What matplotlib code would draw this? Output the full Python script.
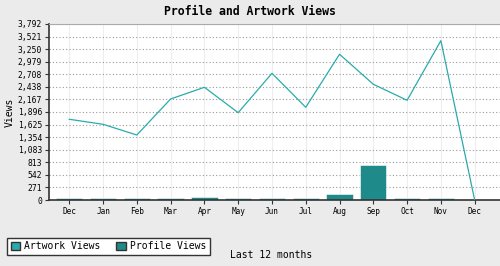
import matplotlib.pyplot as plt
import numpy as np

months = ["Dec", "Jan", "Feb", "Mar", "Apr", "May", "Jun",
          "Jul", "Aug", "Sep", "Oct", "Nov", "Dec"]
artwork = [1739, 1631, 1400, 2176, 2428, 1881, 2729,
           1997, 3139, 2493, 2148, 3432, 0]
profile = [45, 45, 45, 45, 75, 45, 45, 45, 140, 761, 45, 45, 0]
yticks = [0, 271, 542, 813, 1083, 1354, 1625, 1896,
          2167, 2438, 2708, 2979, 3250, 3521, 3792]

line_col = "#2aabab"
bar_col = "#1e8a8a"
mono = "DejaVu Sans Mono"

fig = plt.figure(figsize=(5, 2.66), dpi=100, facecolor="#ebebeb")
ax = fig.add_axes([0.098, 0.248, 0.902, 0.662])
ax.set_facecolor("white")

x = np.arange(len(months))
ax.bar(x, profile, width=0.78, color=bar_col, edgecolor="white",
       linewidth=0.4, zorder=2, label="Profile Views")
ax.plot(x, artwork, color=line_col, linewidth=0.9, zorder=3,
        label="Artwork Views")

ax.set_xlim(-0.6, 12.75)
ax.set_ylim(0, 3792)
ax.set_xticks(x)
ax.set_xticklabels(months, fontfamily=mono, fontsize=5.6)
ax.set_yticks(yticks)
ax.set_yticklabels(["{:,}".format(v) for v in yticks],
                   fontfamily=mono, fontsize=5.8)
ax.tick_params(length=3, width=0.8, color="#333333", pad=2)

ax.yaxis.grid(True, linestyle=(0, (1, 2)), color="#999999", linewidth=0.8)
ax.xaxis.grid(True, linestyle="-", color="#eeeeee", linewidth=0.8)
ax.set_axisbelow(True)

ax.spines["right"].set_visible(False)
ax.spines["top"].set_color("#aaaaaa")
ax.spines["left"].set_color("#333333")
ax.spines["bottom"].set_color("#333333")
ax.spines["left"].set_linewidth(1.2)
ax.spines["bottom"].set_linewidth(1.2)

ax.set_ylabel("Views", fontfamily=mono, fontsize=7, labelpad=2)
fig.text(0.543, 0.04, "Last 12 months", fontfamily=mono, fontsize=7,
         ha="center", va="center")
fig.text(0.5, 0.955, "Profile and Artwork Views", fontfamily=mono,
         fontsize=8.3, fontweight="bold", ha="center", va="center")

handles = [plt.Rectangle((0, 0), 1, 1, facecolor=line_col, edgecolor="#333333"),
           plt.Rectangle((0, 0), 1, 1, facecolor=bar_col, edgecolor="#333333")]
leg = fig.legend(handles, ["Artwork Views", "Profile Views"], ncol=2,
                 loc="lower left", bbox_to_anchor=(0.004, 0.022),
                 prop={"family": mono, "size": 7}, fancybox=False,
                 edgecolor="#333333", framealpha=1, handlelength=1,
                 handleheight=1, handletextpad=0.4, columnspacing=1.6,
                 borderpad=0.4)
leg.get_frame().set_linewidth(1)

fig.savefig("out.png", dpi=100, facecolor=fig.get_facecolor())
